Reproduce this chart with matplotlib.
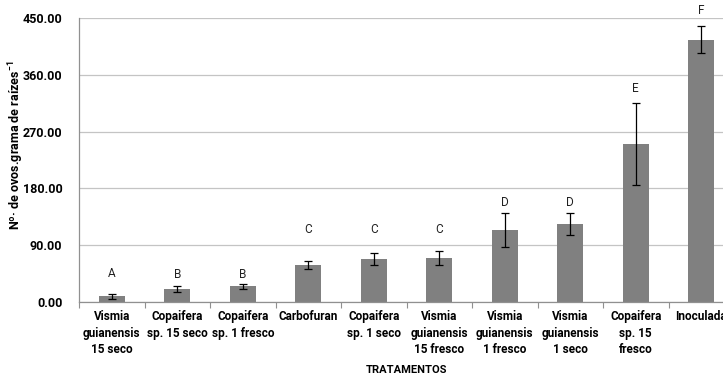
import matplotlib.pyplot as plt
import numpy as np

plt.rcParams['font.family'] = ['Roboto', 'DejaVu Sans']
plt.rcParams['mathtext.fontset'] = 'custom'
plt.rcParams['mathtext.rm'] = 'Roboto:bold'
plt.rcParams['mathtext.bf'] = 'Roboto:bold'

tratamentos = [
    "Vismia\nguianensis\n15 seco",
    "Copaifera\nsp. 15 seco",
    "Copaifera\nsp. 1 fresco",
    "Carbofuran",
    "Copaifera\nsp. 1 seco",
    "Vismia\nguianensis\n15 fresco",
    "Vismia\nguianensis\n1 fresco",
    "Vismia\nguianensis\n1 seco",
    "Copaifera\nsp. 15\nfresco",
    "Inoculada",
]
ovos = [9.5, 20.6, 25.0, 58.6, 67.6, 69.7, 114.0, 123.6, 250.4, 416.0]
erro = [4.0, 5.5, 4.0, 6.6, 9.7, 11.6, 26.5, 18.0, 65.0, 21.0]
letras = ["A", "B", "B", "C", "C", "C", "D", "D", "E", "F"]
pos_letras = [46, 43, 43, 115, 115, 115, 157, 157, 339, 462]

fig = plt.figure(figsize=(7.23, 3.78), dpi=100)
ax = fig.add_axes([0.1093, 0.201, 0.906, 0.751])

x = np.arange(len(tratamentos))
ax.bar(x, ovos, width=0.4, color='#808080', zorder=2)
ax.errorbar(x, ovos, yerr=erro, fmt='none', ecolor='black', elinewidth=0.9,
            capsize=3, capthick=0.9, zorder=3)

# letras de significancia acima das barras
for xi, letra, yl in zip(x, letras, pos_letras):
    ax.text(xi, yl, letra, ha='center', va='center', fontsize=8.5, color='#222222')

ax.set_xlim(-0.5, len(tratamentos) - 0.5)
ax.set_ylim(0, 450)
ax.set_yticks(np.arange(0, 451, 90))
ax.set_yticklabels([f"{v:.2f}" for v in np.arange(0, 451, 90)],
                   fontsize=9, fontweight='bold')
ax.yaxis.grid(True, color='#c4c4c4', linewidth=0.9, zorder=0)
ax.set_axisbelow(True)

ax.set_xticks(x)
ax.set_xticklabels(tratamentos, fontsize=8.5, fontweight='bold', linespacing=1.35)
ax.set_xticks(np.arange(-0.5, len(tratamentos), 1), minor=True)
ax.tick_params(axis='x', which='major', length=0, pad=6)
ax.tick_params(axis='x', which='minor', length=4, color='#909090', width=0.8)
ax.tick_params(axis='y', length=0, pad=12)

for side in ['top', 'right']:
    ax.spines[side].set_visible(False)
for side in ['left', 'bottom']:
    ax.spines[side].set_color('#909090')
    ax.spines[side].set_linewidth(0.9)

ax.set_ylabel("Nº· de ovos.grama de raízes$^{-1}$",
              fontsize=9, fontweight='bold')
ax.yaxis.set_label_coords(-0.081, 0.553)
ax.set_xlabel("TRATAMENTOS", fontsize=8, fontweight='bold', labelpad=6)

fig.savefig('out.png', dpi=100)
